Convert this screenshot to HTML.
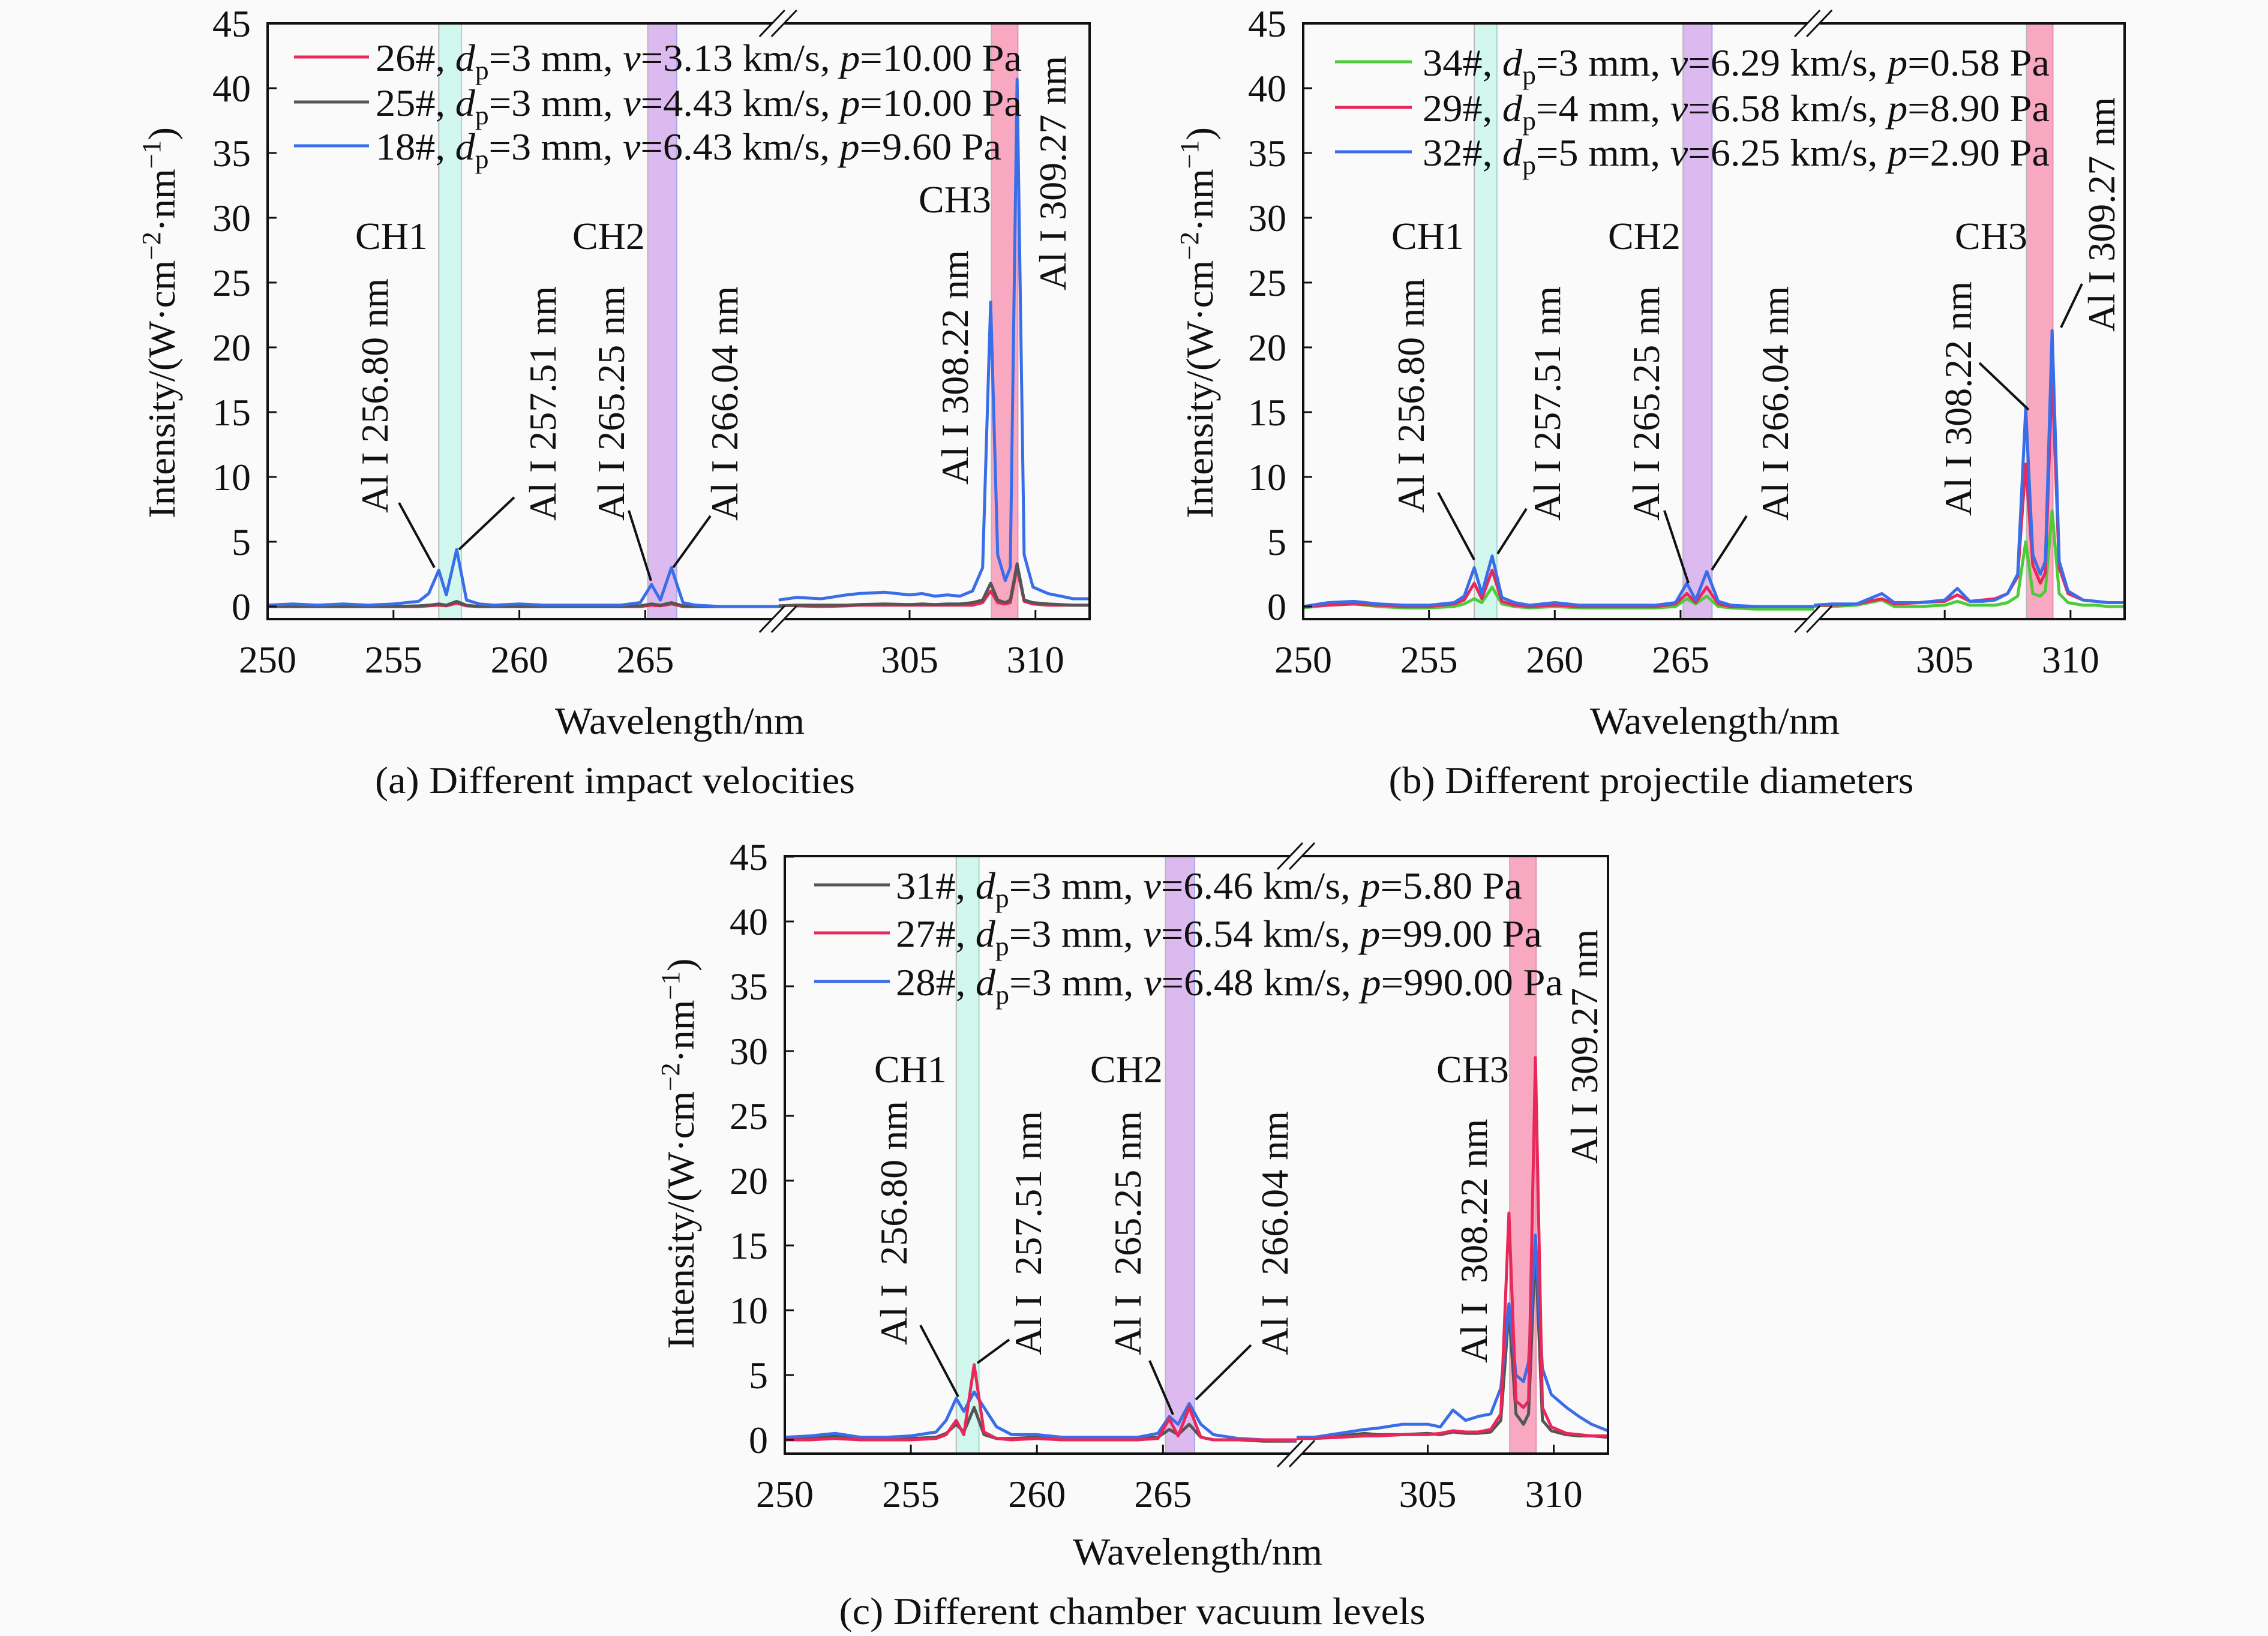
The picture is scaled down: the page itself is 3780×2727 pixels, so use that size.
<!DOCTYPE html>
<html>
<head>
<meta charset="utf-8">
<style>
html,body{margin:0;padding:0;background:#fafafa;}
svg{display:block;font-family:"Liberation Serif","Times New Roman",serif;}
svg text, svg tspan{font-family:"Liberation Serif","Times New Roman",serif;}
text{fill:#111;}
</style>
</head>
<body>
<svg id="fig" xmlns="http://www.w3.org/2000/svg" width="3780" height="2727" viewBox="0 0 3780 2727" font-family="Liberation Serif, serif">
<rect x="0" y="0" width="3780" height="2727" fill="#fafafa"/>
<g id="layer-bands"></g>
<g id="layer-lines"></g>
<g id="layer-axes"></g>

<!-- ===== Panel A annotations ===== -->
<g font-size="64">
  <g>
    <line x1="490" y1="95" x2="615" y2="95" stroke="#e8285a" stroke-width="5"/>
    <line x1="490" y1="170" x2="615" y2="170" stroke="#555" stroke-width="5"/>
    <line x1="490" y1="243" x2="615" y2="243" stroke="#3a6ee8" stroke-width="5"/>
    <text x="626" y="118" textLength="1077" lengthAdjust="spacingAndGlyphs">26#, <tspan font-style="italic">d</tspan><tspan font-size="44" dy="14">p</tspan><tspan dy="-14">=3 mm, </tspan><tspan font-style="italic">v</tspan>=3.13 km/s, <tspan font-style="italic">p</tspan>=10.00 Pa</text>
    <text x="626" y="193" textLength="1077" lengthAdjust="spacingAndGlyphs">25#, <tspan font-style="italic">d</tspan><tspan font-size="44" dy="14">p</tspan><tspan dy="-14">=3 mm, </tspan><tspan font-style="italic">v</tspan>=4.43 km/s, <tspan font-style="italic">p</tspan>=10.00 Pa</text>
    <text x="626" y="266" textLength="1043" lengthAdjust="spacingAndGlyphs">18#, <tspan font-style="italic">d</tspan><tspan font-size="44" dy="14">p</tspan><tspan dy="-14">=3 mm, </tspan><tspan font-style="italic">v</tspan>=6.43 km/s, <tspan font-style="italic">p</tspan>=9.60 Pa</text>
  </g>
  <text x="592" y="415">CH1</text>
  <text x="954" y="415">CH2</text>
  <text x="1531" y="354">CH3</text>
  <text x="646" y="855" transform="rotate(-90 646 855)">Al I 256.80 nm</text>
  <text x="926" y="868" transform="rotate(-90 926 868)">Al I 257.51 nm</text>
  <text x="1040" y="868" transform="rotate(-90 1040 868)">Al I 265.25 nm</text>
  <text x="1229" y="868" transform="rotate(-90 1229 868)">Al I 266.04 nm</text>
  <text x="1613" y="808" transform="rotate(-90 1613 808)">Al I 308.22 nm</text>
  <text x="1776" y="484" transform="rotate(-90 1776 484)">Al I 309.27 nm</text>
  <g stroke="#111" stroke-width="4">
    <line x1="665" y1="838" x2="724" y2="946"/>
    <line x1="857" y1="829" x2="765" y2="916"/>
    <line x1="1048" y1="851" x2="1085" y2="968"/>
    <line x1="1184" y1="860" x2="1122" y2="946"/>
  </g>
  <text x="291" y="538" transform="rotate(-90 291 538)" text-anchor="middle" textLength="652" lengthAdjust="spacingAndGlyphs">Intensity/(W·cm<tspan font-size="44" dy="-24">−2</tspan><tspan dy="24">·nm</tspan><tspan font-size="44" dy="-24">−1</tspan><tspan dy="24">)</tspan></text>
  <text x="1133" y="1223" text-anchor="middle" textLength="416" lengthAdjust="spacingAndGlyphs">Wavelength/nm</text>
  <text x="1025" y="1322" text-anchor="middle" textLength="800" lengthAdjust="spacingAndGlyphs">(a) Different impact velocities</text>
</g>

<!-- ===== Panel B annotations ===== -->
<g font-size="64">
  <g>
    <line x1="2225" y1="103" x2="2353" y2="103" stroke="#4ccc3a" stroke-width="5"/>
    <line x1="2225" y1="179" x2="2353" y2="179" stroke="#e8285a" stroke-width="5"/>
    <line x1="2225" y1="253" x2="2353" y2="253" stroke="#3a6ee8" stroke-width="5"/>
    <text x="2371" y="126" textLength="1045" lengthAdjust="spacingAndGlyphs">34#, <tspan font-style="italic">d</tspan><tspan font-size="44" dy="14">p</tspan><tspan dy="-14">=3 mm, </tspan><tspan font-style="italic">v</tspan>=6.29 km/s, <tspan font-style="italic">p</tspan>=0.58 Pa</text>
    <text x="2371" y="202" textLength="1045" lengthAdjust="spacingAndGlyphs">29#, <tspan font-style="italic">d</tspan><tspan font-size="44" dy="14">p</tspan><tspan dy="-14">=4 mm, </tspan><tspan font-style="italic">v</tspan>=6.58 km/s, <tspan font-style="italic">p</tspan>=8.90 Pa</text>
    <text x="2371" y="276" textLength="1045" lengthAdjust="spacingAndGlyphs">32#, <tspan font-style="italic">d</tspan><tspan font-size="44" dy="14">p</tspan><tspan dy="-14">=5 mm, </tspan><tspan font-style="italic">v</tspan>=6.25 km/s, <tspan font-style="italic">p</tspan>=2.90 Pa</text>
  </g>
  <text x="2319" y="415">CH1</text>
  <text x="2680" y="415">CH2</text>
  <text x="3258" y="415">CH3</text>
  <text x="2373" y="855" transform="rotate(-90 2373 855)">Al I 256.80 nm</text>
  <text x="2600" y="868" transform="rotate(-90 2600 868)">Al I 257.51 nm</text>
  <text x="2765" y="868" transform="rotate(-90 2765 868)">Al I 265.25 nm</text>
  <text x="2980" y="868" transform="rotate(-90 2980 868)">Al I 266.04 nm</text>
  <text x="3285" y="860" transform="rotate(-90 3285 860)">Al I 308.22 nm</text>
  <text x="3524" y="553" transform="rotate(-90 3524 553)">Al I 309.27 nm</text>
  <g stroke="#111" stroke-width="4">
    <line x1="2397" y1="821" x2="2457" y2="933"/>
    <line x1="2544" y1="848" x2="2496" y2="923"/>
    <line x1="2774" y1="851" x2="2814" y2="972"/>
    <line x1="2911" y1="860" x2="2853" y2="950"/>
    <line x1="3299" y1="605" x2="3381" y2="683"/>
    <line x1="3470" y1="473" x2="3435" y2="546"/>
  </g>
  <text x="2021" y="538" transform="rotate(-90 2021 538)" text-anchor="middle" textLength="652" lengthAdjust="spacingAndGlyphs">Intensity/(W·cm<tspan font-size="44" dy="-24">−2</tspan><tspan dy="24">·nm</tspan><tspan font-size="44" dy="-24">−1</tspan><tspan dy="24">)</tspan></text>
  <text x="2858" y="1223" text-anchor="middle" textLength="416" lengthAdjust="spacingAndGlyphs">Wavelength/nm</text>
  <text x="2752" y="1322" text-anchor="middle" textLength="875" lengthAdjust="spacingAndGlyphs">(b) Different projectile diameters</text>
</g>

<!-- ===== Panel C annotations ===== -->
<g font-size="64">
  <g>
    <line x1="1357" y1="1475" x2="1483" y2="1475" stroke="#555" stroke-width="5"/>
    <line x1="1357" y1="1555" x2="1483" y2="1555" stroke="#e8285a" stroke-width="5"/>
    <line x1="1357" y1="1636" x2="1483" y2="1636" stroke="#3a6ee8" stroke-width="5"/>
    <text x="1493" y="1498" textLength="1044" lengthAdjust="spacingAndGlyphs">31#, <tspan font-style="italic">d</tspan><tspan font-size="44" dy="14">p</tspan><tspan dy="-14">=3 mm, </tspan><tspan font-style="italic">v</tspan>=6.46 km/s, <tspan font-style="italic">p</tspan>=5.80 Pa</text>
    <text x="1493" y="1578" textLength="1077" lengthAdjust="spacingAndGlyphs">27#, <tspan font-style="italic">d</tspan><tspan font-size="44" dy="14">p</tspan><tspan dy="-14">=3 mm, </tspan><tspan font-style="italic">v</tspan>=6.54 km/s, <tspan font-style="italic">p</tspan>=99.00 Pa</text>
    <text x="1493" y="1659" textLength="1112" lengthAdjust="spacingAndGlyphs">28#, <tspan font-style="italic">d</tspan><tspan font-size="44" dy="14">p</tspan><tspan dy="-14">=3 mm, </tspan><tspan font-style="italic">v</tspan>=6.48 km/s, <tspan font-style="italic">p</tspan>=990.00 Pa</text>
  </g>
  <text x="1457" y="1804">CH1</text>
  <text x="1817" y="1804">CH2</text>
  <text x="2394" y="1804">CH3</text>
  <text x="1511" y="2242" transform="rotate(-90 1511 2242)" xml:space="preserve">Al I  256.80 nm</text>
  <text x="1735" y="2259" transform="rotate(-90 1735 2259)" xml:space="preserve">Al I  257.51 nm</text>
  <text x="1901" y="2259" transform="rotate(-90 1901 2259)" xml:space="preserve">Al I  265.25 nm</text>
  <text x="2146" y="2259" transform="rotate(-90 2146 2259)" xml:space="preserve">Al I  266.04 nm</text>
  <text x="2478" y="2272" transform="rotate(-90 2478 2272)" xml:space="preserve">Al I  308.22 nm</text>
  <text x="2662" y="1940" transform="rotate(-90 2662 1940)">Al I 309.27 nm</text>
  <g stroke="#111" stroke-width="4">
    <line x1="1534" y1="2209" x2="1597" y2="2328"/>
    <line x1="1682" y1="2233" x2="1629" y2="2272"/>
    <line x1="1916" y1="2268" x2="1955" y2="2358"/>
    <line x1="2085" y1="2242" x2="1993" y2="2333"/>
  </g>
  <text x="1156" y="1923" transform="rotate(-90 1156 1923)" text-anchor="middle" textLength="651" lengthAdjust="spacingAndGlyphs">Intensity/(W·cm<tspan font-size="44" dy="-24">−2</tspan><tspan dy="24">·nm</tspan><tspan font-size="44" dy="-24">−1</tspan><tspan dy="24">)</tspan></text>
  <text x="1996" y="2608" text-anchor="middle" textLength="416" lengthAdjust="spacingAndGlyphs">Wavelength/nm</text>
  <text x="1887" y="2707" text-anchor="middle" textLength="977" lengthAdjust="spacingAndGlyphs">(c) Different chamber vacuum levels</text>
</g>
</svg>

<script>
// ---------- data ----------
const WL_L = [250,251,252,253,254,255,256,256.4,256.8,257.1,257.51,257.9,258.4,259,260,261,262,263,264,264.8,265.25,265.6,266.04,266.5,267,268,269,270.3];
const WL_R = [299.8,300.5,301.5,302.5,303,304,305,305.5,306,306.5,307,307.5,307.9,308.22,308.5,308.8,309.0,309.27,309.55,309.9,310.5,311,311.5,312.15];
const X_TICKS = [250,255,260,265,305,310];
const Y_TICKS = [0,5,10,15,20,25,30,35,40,45];
const BANDS = [[256.8,257.7],[265.1,266.25],[308.25,309.3]];

// panel (a)
const A26_L = [0,0,0,0,0,0,0,0.05,0.1,0.05,0.25,0.05,0,0,0,0,0,0,0,0,0.1,0.05,0.2,0,0,0,0,0];
const A26_R = [0,0.05,0,0.05,0.1,0.1,0.1,0.1,0.1,0.1,0.1,0.1,0.3,1.2,0.3,0.2,0.3,3.0,0.4,0.2,0.1,0.1,0.1,0.1];
const A25_L = [0,0,0,0,0,0,0.05,0.1,0.2,0.1,0.4,0.1,0,0,0,0,0,0,0,0.05,0.2,0.1,0.3,0.05,0,0,0,0];
const A25_R = [0.05,0.1,0.1,0.1,0.15,0.2,0.15,0.2,0.15,0.2,0.2,0.3,0.5,1.8,0.5,0.3,0.5,3.3,0.5,0.3,0.2,0.15,0.1,0.1];
const A18_L = [0.1,0.2,0.1,0.2,0.1,0.2,0.4,1.0,2.8,0.9,4.4,0.5,0.2,0.1,0.2,0.1,0.1,0.1,0.1,0.3,1.7,0.5,3.0,0.3,0.1,0.0,0.0,0.0];
const A18_R = [0.5,0.7,0.6,0.9,1.0,1.1,0.9,1.0,0.8,0.9,0.8,1.2,3.0,23.5,4.0,2.0,3.0,40.7,4.0,1.5,1.0,0.8,0.6,0.6];
// panel (b)
const B34_L = [-0.1,0.1,0.2,0,-0.1,-0.1,0,0.2,0.6,0.3,1.5,0.2,0,-0.1,0,-0.1,-0.1,-0.1,-0.1,0,0.6,0.2,0.8,0,-0.1,-0.2,-0.2,-0.2];
const B34_R = [0.0,0.0,0.1,0.5,0.0,0.0,0.1,0.4,0.1,0.1,0.1,0.3,0.8,5.0,1.0,0.8,1.2,7.4,1.0,0.3,0.1,0.1,0.0,0.0];
const B29_L = [0,0.1,0.2,0.1,0,0,0.2,0.5,1.8,0.6,2.8,0.4,0.1,0,0.1,0,0,0,0,0.2,1.0,0.3,1.5,0.2,0,0,0,0];
const B29_R = [0.1,0.1,0.2,0.6,0.2,0.3,0.4,0.9,0.4,0.5,0.6,1.0,2.3,11,3.2,1.8,2.6,18,3.0,1.0,0.5,0.4,0.3,0.3];
const B32_L = [0.0,0.3,0.4,0.2,0.1,0.1,0.3,0.8,3.0,1.0,3.9,0.7,0.3,0.1,0.3,0.1,0.1,0.1,0.1,0.3,1.8,0.5,2.7,0.4,0.1,0.0,0.0,0.0];
const B32_R = [0.1,0.2,0.2,1.0,0.3,0.3,0.5,1.4,0.4,0.4,0.5,1.0,2.5,15.3,4.0,2.5,3.5,21.3,3.5,1.2,0.5,0.4,0.3,0.3];
// panel (c)
const C31_L = [0.1,0.2,0.3,0.1,0.1,0.1,0.2,0.5,1.2,0.6,2.5,0.4,0.1,0.1,0.2,0.0,0.1,0.1,0.1,0.2,0.8,0.4,1.2,0.2,0.0,0.0,-0.1,-0.1];
const C31_R = [0.1,0.2,0.3,0.5,0.4,0.4,0.5,0.4,0.6,0.5,0.5,0.6,1.5,10.0,2.0,1.2,2.0,15.0,1.5,0.7,0.4,0.3,0.3,0.2];
const C27_L = [0.0,0.0,0.1,0.0,0.0,0.0,0.1,0.4,1.5,0.4,5.8,0.6,0.1,0,0.1,0,0,0,0,0.1,1.6,0.3,2.5,0.2,0,0,0,0];
const C27_R = [0.1,0.1,0.2,0.3,0.3,0.4,0.4,0.5,0.7,0.6,0.6,0.8,2.0,17.5,3.0,2.5,3.0,29.5,2.5,1.0,0.5,0.4,0.3,0.3];
const C28_L = [0.2,0.3,0.5,0.2,0.2,0.3,0.6,1.5,3.2,2.2,3.7,2.5,1.0,0.4,0.4,0.2,0.2,0.2,0.2,0.5,1.8,1.2,2.8,1.2,0.4,0.1,0.0,-0.1];
const C28_R = [0.2,0.2,0.5,0.8,0.9,1.2,1.2,1.0,2.3,1.5,1.8,2.0,4.0,10.5,5.0,4.5,6.0,15.8,5.5,3.5,2.5,1.8,1.2,0.7];

// ---------- drawing ----------
const NS = 'http://www.w3.org/2000/svg';
const bandsG = document.getElementById('layer-bands');
const linesG = document.getElementById('layer-lines');
const axesG = document.getElementById('layer-axes');
const COL = {red:'#e8285a', gray:'#555555', blue:'#3a6ee8', green:'#4ccc3a'};
const BAND_FILL = ['#d2f7ee','#dcbaf0','#f9a8c2'];
const BAND_EDGE = ['#9fd8c8','#a8a8e8','#e890aa'];

function mk(tag, attrs, parent){
  const e = document.createElementNS(NS, tag);
  for (const k in attrs) e.setAttribute(k, attrs[k]);
  parent.appendChild(e);
  return e;
}

function panel(p){
  const k = (p.R - p.L) / (20.3 + 12.35);
  const B = p.L + 20.3 * k;
  const xs = w => w < 285 ? p.L + (w - 250) * k : B + (w - 299.8) * k;
  const ys = v => p.y0 - v * 21.6;

  BANDS.forEach((b, i) => {
    const r = mk('rect', {x: xs(b[0]), y: p.T, width: xs(b[1]) - xs(b[0]), height: p.Bot - p.T, fill: BAND_FILL[i]}, bandsG);
    
    
    const e1 = mk('line', {x1: xs(b[0]), x2: xs(b[0]), y1: p.T, y2: p.Bot, stroke: '#b8b8b8', 'stroke-width': 2}, bandsG);
    
    
    const e2 = mk('line', {x1: xs(b[1]), x2: xs(b[1]), y1: p.T, y2: p.Bot, stroke: BAND_EDGE[i], 'stroke-width': 2}, bandsG);
    
    
  });

  p.series.forEach(s => {
    [[WL_L, s.l, 'left'], [WL_R, s.r, 'right']].forEach(seg => {
      const d = seg[0].map((w, i) => (i ? 'L' : 'M') + xs(w).toFixed(1) + ' ' + ys(seg[1][i]).toFixed(1)).join(' ');
      const path = mk('path', {d: d, fill: 'none', stroke: s.c, 'stroke-width': 5, 'stroke-linejoin': 'round'}, linesG);
      
      
    });
  });

  const fr = mk('rect', {x: p.L, y: p.T, width: p.R - p.L, height: p.Bot - p.T, fill: 'none', stroke: '#111', 'stroke-width': 4}, axesG);
  
  

  Y_TICKS.forEach(v => {
    const y = ys(v);
    const t = mk('line', {x1: p.L, x2: p.L + 15, y1: y, y2: y, stroke: '#111', 'stroke-width': 3}, axesG);
    
    
    const lb = mk('text', {x: p.L - 28, y: y + 22, 'text-anchor': 'end', 'font-size': 64}, axesG);
    lb.textContent = String(v);
    
    
  });
  X_TICKS.forEach(v => {
    const x = xs(v);
    const t = mk('line', {x1: x, x2: x, y1: p.Bot, y2: p.Bot - 15, stroke: '#111', 'stroke-width': 3}, axesG);
    
    
    const lb = mk('text', {x: x, y: p.Bot + 89, 'text-anchor': 'middle', 'font-size': 64}, axesG);
    lb.textContent = String(v);
    
    
  });

  [p.T, p.Bot].forEach((y, j) => {
    const g = mk('g', {}, axesG);
    
    
    mk('polygon', {points: (B - 30) + ',' + (y + 20) + ' ' + (B + 10) + ',' + (y - 20) + ' ' + (B + 28) + ',' + (y - 20) + ' ' + (B - 12) + ',' + (y + 20), fill: '#fafafa'}, g);
    mk('line', {x1: B - 32, y1: y + 22, x2: B + 10, y2: y - 22, stroke: '#111', 'stroke-width': 3}, g);
    mk('line', {x1: B - 12, y1: y + 22, x2: B + 30, y2: y - 22, stroke: '#111', 'stroke-width': 3}, g);
  });
}

panel({id: 'a', L: 446, R: 1816, T: 39, Bot: 1032, y0: 1011, series: [
  {n: '26', c: COL.red, l: A26_L, r: A26_R},
  {n: '25', c: COL.gray, l: A25_L, r: A25_R},
  {n: '18', c: COL.blue, l: A18_L, r: A18_R}]});
panel({id: 'b', L: 2172, R: 3541, T: 39, Bot: 1032, y0: 1011, series: [
  {n: '34', c: COL.green, l: B34_L, r: B34_R},
  {n: '29', c: COL.red, l: B29_L, r: B29_R},
  {n: '32', c: COL.blue, l: B32_L, r: B32_R}]});
panel({id: 'c', L: 1308, R: 2680, T: 1427, Bot: 2423, y0: 2400, series: [
  {n: '31', c: COL.gray, l: C31_L, r: C31_R},
  {n: '28', c: COL.blue, l: C28_L, r: C28_R},
  {n: '27', c: COL.red, l: C27_L, r: C27_R}]});
</script>
</body>
</html>
